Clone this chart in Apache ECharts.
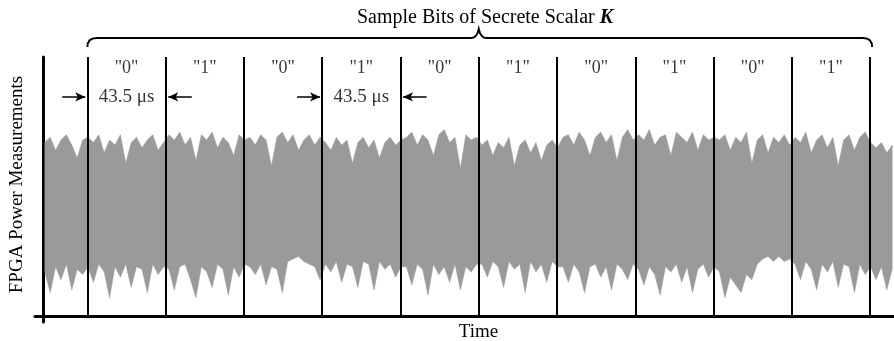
<!DOCTYPE html>
<html>
<head>
<meta charset="utf-8">
<title>FPGA power trace</title>
<script src="https://cdn.jsdelivr.net/npm/echarts@6/dist/echarts.min.js"></script>
<style>
  html, body { margin: 0; padding: 0; background: #fff; }
  #chart { width: 894px; height: 341px; }
</style>
</head>
<body>
<div id="chart"></div>
<script>
// bit values of the sampled scalar, one per 43.5 us window
const bits = ['0', '1', '0', '1', '0', '1', '0', '1', '0', '1']
// window boundaries in us (time counted from the y axis)
const bitEdges = [24.7, 68.2, 111.7, 155.2, 198.7, 242.2, 285.7, 329.2, 372.7, 416.2, 459.7]
const spanLabel = '43.5 μs'
const markedSpans = [0, 3] // windows that carry the width arrows

// power trace envelope, one sample every 3 us starting at 1 us
const sampleStart = 1
const sampleStep = 3
const upper = [
  67, 69, 64, 68, 70, 66, 61, 68,
  69, 67, 70, 63, 68, 66, 70, 59, 67, 69, 65, 68, 70, 64, 67,
  70, 68, 71, 66, 69, 60, 70, 68, 71, 65, 69, 67, 62, 70, 68,
  69, 66, 70, 68, 58, 69, 71, 67, 70, 64, 68, 70, 66, 69,
  67, 64, 69, 66, 68, 59, 67, 69, 65, 68, 61, 67, 69, 66, 68,
  69, 71, 66, 70, 68, 62, 70, 72, 67, 69, 57, 70, 68, 69,
  66, 68, 62, 67, 65, 69, 58, 66, 68, 63, 67, 60, 66, 68, 65,
  69, 70, 66, 71, 68, 62, 69, 71, 67, 70, 60, 69, 72, 68,
  70, 68, 72, 66, 69, 70, 62, 71, 69, 67, 71, 64, 70, 68, 69,
  68, 70, 64, 69, 67, 71, 59, 68, 70, 63, 69, 67, 70, 66,
  69, 67, 71, 63, 68, 70, 65, 69, 58, 68, 70, 64, 69, 71, 67,
  65, 67, 63, 66
]
const lower = [
  17, 9, 19, 14, 20, 10, 18, 16,
  19, 13, 20, 17, 7, 19, 15, 20, 11, 19, 18, 9, 20, 16, 19,
  18, 10, 19, 20, 14, 7, 19, 17, 11, 20, 18, 8, 19, 15, 20,
  19, 16, 20, 12, 19, 18, 9, 21, 22, 23, 21, 20, 19, 14,
  20, 17, 21, 13, 20, 19, 11, 21, 20, 10, 21, 18, 20, 15, 19,
  19, 12, 20, 18, 8, 20, 16, 19, 13, 20, 10, 19, 17, 20,
  20, 15, 21, 19, 11, 21, 18, 20, 9, 21, 17, 20, 13, 21, 19,
  19, 13, 20, 17, 9, 19, 20, 15, 19, 10, 20, 18, 14, 20,
  18, 12, 19, 16, 8, 19, 17, 20, 13, 19, 9, 18, 20, 15, 19,
  17, 7, 15, 12, 9, 16, 14, 20, 22, 23, 21, 23, 21, 22,
  20, 14, 21, 18, 10, 20, 17, 21, 11, 20, 19, 9, 20, 16, 19,
  14, 19, 10, 18
]

const serif = '"Liberation Serif", "Times New Roman", serif'
const labelY = 95.8
const arrowY = 84.6
const braceY = 107.3

const times = upper.map((_, i) => sampleStart + i * sampleStep)
const mid = i => (bitEdges[i] + bitEdges[i + 1]) / 2

const arrows = []
markedSpans.forEach(s => {
  const a = bitEdges[s]
  const b = bitEdges[s + 1]
  arrows.push([{ coord: [a - 14, arrowY] }, { coord: [a - 1.2, arrowY] }])
  arrows.push([{ coord: [b + 14.5, arrowY] }, { coord: [b + 1.4, arrowY] }])
})

const myChart = echarts.init(document.getElementById('chart'))
const option = {
  animation: false,
  title: {
    text: '{a|Sample Bits of Secrete Scalar }{b|K}',
    left: 352,
    top: 3,
    textStyle: {
      rich: {
        a: { fontFamily: serif, fontSize: 20, color: '#000', fontWeight: 'normal' },
        b: { fontFamily: serif, fontSize: 20, color: '#000', fontWeight: 'bold', fontStyle: 'italic' }
      }
    }
  },
  grid: { left: 35, right: 0, top: 57, bottom: 19, outerBoundsMode: 'none' },
  xAxis: {
    type: 'value',
    min: -4.45,
    max: 473,
    name: 'Time',
    nameLocation: 'middle',
    nameGap: 1,
    nameTextStyle: { fontFamily: serif, fontSize: 19, color: '#000', padding: [0, 0, 0, 28] },
    axisLine: { lineStyle: { color: '#000', width: 3 } },
    axisTick: { show: false },
    axisLabel: { show: false },
    splitLine: { show: false }
  },
  yAxis: {
    type: 'value',
    min: -2.32,
    max: 100,
    name: 'FPGA Power Measurements',
    nameLocation: 'middle',
    nameRotate: 90,
    nameGap: 8,
    nameTextStyle: { fontFamily: serif, fontSize: 19, color: '#000', padding: [0, 0, 0, 10] },
    axisLine: { lineStyle: { color: '#000', width: 3 } },
    axisTick: { show: false },
    axisLabel: { show: false },
    splitLine: { show: false }
  },
  series: [
    {
      name: 'trace',
      type: 'custom',
      z: 2,
      renderItem: function(params, api) {
        const top = times.map((t, i) => api.coord([t, upper[i]]))
        const bottom = times.map((t, i) => api.coord([t, lower[i]])).reverse()
        return {
          type: 'polygon',
          shape: { points: top.concat(bottom) },
          style: { fill: '#9a9a9a', stroke: '#9a9a9a', lineWidth: 0.5 }
        }
      },
      data: [[0]]
    },
    {
      name: 'edges',
      type: 'line',
      data: [],
      z: 5,
      markLine: {
        silent: true,
        symbol: ['none', 'none'],
        label: { show: false },
        lineStyle: { color: '#000', width: 2, type: 'solid' },
        data: bitEdges.map(x => [{ coord: [x, 0] }, { coord: [x, 100] }])
      }
    },
    {
      name: 'arrows',
      type: 'line',
      data: [],
      z: 5,
      markLine: {
        silent: true,
        symbol: ['none', 'arrow'],
        symbolSize: [7, 10],
        label: { show: false },
        lineStyle: { color: '#000', width: 1.5, type: 'solid' },
        data: arrows
      }
    },
    {
      name: 'bits',
      type: 'scatter',
      symbolSize: 1,
      itemStyle: { color: 'transparent' },
      z: 6,
      label: {
        show: true,
        position: 'inside',
        formatter: p => '"' + p.value[2] + '"',
        fontFamily: serif,
        fontSize: 18,
        color: '#000'
      },
      data: bits.map((b, i) => [mid(i), labelY, b])
    },
    {
      name: 'spans',
      type: 'scatter',
      symbolSize: 1,
      itemStyle: { color: 'transparent' },
      z: 6,
      label: {
        show: true,
        position: 'inside',
        formatter: spanLabel,
        fontFamily: serif,
        fontSize: 19,
        color: '#000'
      },
      data: markedSpans.map(s => [mid(s), arrowY])
    },
    {
      name: 'brace',
      type: 'custom',
      z: 6,
      renderItem: function(params, api) {
        const p0 = api.coord([bitEdges[0], braceY])
        const p1 = api.coord([bitEdges[bitEdges.length - 1], braceY])
        const c = (p0[0] + p1[0]) / 2
        const y = p0[1]
        const r = 9
        const path = 'M' + p0[0] + ',' + (y + r) +
          ' Q' + p0[0] + ',' + y + ' ' + (p0[0] + r) + ',' + y +
          ' L' + (c - 8) + ',' + y +
          ' Q' + (c - 2) + ',' + y + ' ' + c + ',' + (y - 9) +
          ' Q' + (c + 2) + ',' + y + ' ' + (c + 8) + ',' + y +
          ' L' + (p1[0] + 2 - r) + ',' + y +
          ' Q' + (p1[0] + 2) + ',' + y + ' ' + (p1[0] + 2) + ',' + (y + r)
        return {
          type: 'path',
          shape: { pathData: path },
          style: { fill: 'none', stroke: '#000', lineWidth: 2 }
        }
      },
      data: [[0]]
    }
  ]
}
myChart.setOption(option)
window.addEventListener('resize', function() {
  myChart.resize()
})
</script>
</body>
</html>
